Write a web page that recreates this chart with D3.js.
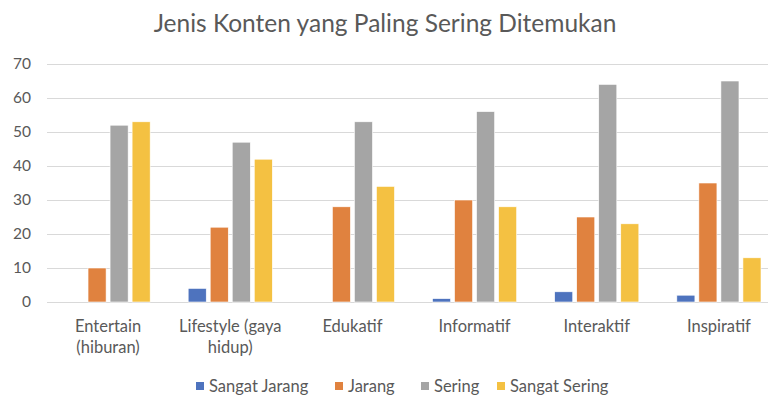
<!DOCTYPE html>
<html>
<head>
<meta charset="utf-8">
<script src="https://cdn.jsdelivr.net/npm/d3@7"></script>
<style>
  html, body { margin: 0; padding: 0; background: #fff; }
  svg { display: block; font-family: Lato, "Open Sans", sans-serif; }
</style>
</head>
<body>
<svg id="chart" width="768" height="400"></svg>
<script>
const categories = [["Entertain", "(hiburan)"], ["Lifestyle (gaya", "hidup)"], ["Edukatif"], ["Informatif"], ["Interaktif"], ["Inspiratif"]];
const seriesNames = ["Sangat Jarang", "Jarang", "Sering", "Sangat Sering"];
const sangatJarang = [0, 4, 0, 1, 3, 2];
const jarang = [10, 22, 28, 30, 25, 35];
const sering = [52, 47, 53, 56, 64, 65];
const sangatSering = [53, 42, 34, 28, 23, 13];
const yTicks = [0, 10, 20, 30, 40, 50, 60, 70];
const colors = ["#4E73BE", "#E0823F", "#A5A5A5", "#F4C142"];
const title = "Jenis Konten yang Paling Sering Ditemukan";

const series = [sangatJarang, jarang, sering, sangatSering];
const svg = d3.select("#chart");
const W = 768, H = 400;
const mLeft = 47, mRight = 780, mTop = 64, mBottom = 302;

const x = d3.scaleBand().domain(d3.range(categories.length)).range([mLeft, mRight]).paddingInner(0).paddingOuter(0);
const x1 = d3.scaleBand().domain(d3.range(series.length)).range([19, x.bandwidth() - 19]).paddingInner(0.18).paddingOuter(0);
const y = d3.scaleLinear().domain([0, 70]).range([mBottom, mTop]);

// title
svg.append("text").attr("x", 385).attr("y", 32).attr("text-anchor", "middle")
  .attr("font-size", 24.5).attr("fill", "#595959").text(title);

// gridlines
svg.append("g").selectAll("line").data(yTicks).join("line")
  .attr("x1", mLeft).attr("x2", W)
  .attr("y1", d => Math.round(y(d)) + 0.5).attr("y2", d => Math.round(y(d)) + 0.5)
  .attr("stroke", "#D9D9D9").attr("stroke-width", 1);

// y axis labels
const yAxis = d3.axisLeft(y).tickValues(yTicks).tickSize(0).tickPadding(0);
const ya = svg.append("g").attr("transform", `translate(31,0)`).call(yAxis);
ya.select(".domain").remove();
ya.selectAll("text").attr("font-size", 15.5).attr("fill", "#595959").attr("font-family", "Lato, sans-serif");

// bars
const groups = svg.append("g").selectAll("g").data(categories.map((c, i) => i)).join("g")
  .attr("transform", i => `translate(${x(i)},0)`);
groups.selectAll("rect").data(i => series.map((s, j) => ({j, v: s[i]}))).join("rect")
  .attr("x", d => x1(d.j)).attr("width", x1.bandwidth())
  .attr("y", d => y(d.v)).attr("height", d => y(0) - y(d.v))
  .attr("fill", d => colors[d.j])
  .attr("stroke", "#fff").attr("stroke-width", 0.6);

// x labels
const xl = svg.append("g").selectAll("text").data(categories.map((c, i) => ({c, i}))).join("text")
  .attr("x", d => x(d.i) + x.bandwidth() / 2).attr("y", 332)
  .attr("text-anchor", "middle").attr("font-size", 16.5).attr("fill", "#595959");
xl.selectAll("tspan").data(d => d.c.map(t => ({t, x: x(d.i) + x.bandwidth() / 2}))).join("tspan")
  .attr("x", d => d.x).attr("dy", (d, k) => k === 0 ? 0 : 21).text(d => d.t);

// legend
const legendX = [196, 335, 421, 497];
const lg = svg.append("g").selectAll("g").data(seriesNames.map((n, j) => ({n, j}))).join("g")
  .attr("transform", d => `translate(${legendX[d.j]},0)`);
lg.append("rect").attr("x", 0).attr("y", 382).attr("width", 8).attr("height", 8).attr("fill", d => colors[d.j]);
lg.append("text").attr("x", 13).attr("y", 392).attr("font-size", 16.5).attr("fill", "#595959").text(d => d.n);
</script>
</body>
</html>
